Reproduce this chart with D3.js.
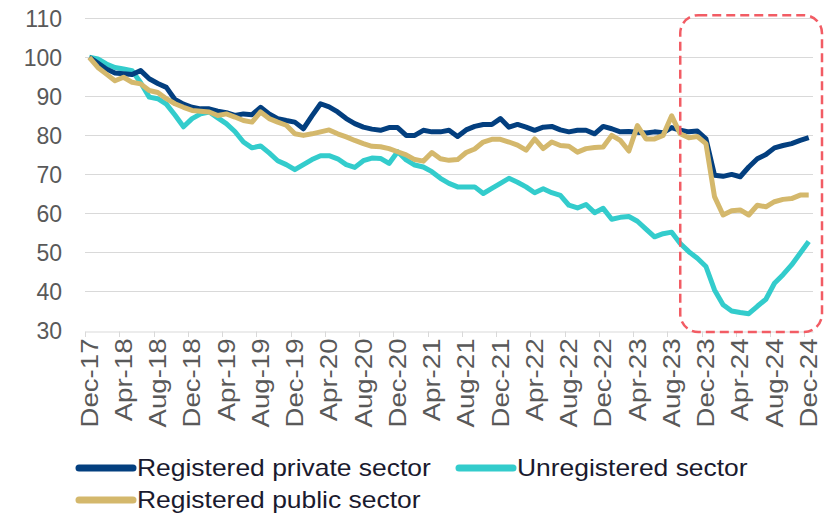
<!DOCTYPE html>
<html>
<head>
<meta charset="utf-8">
<script src="https://cdn.jsdelivr.net/npm/d3@7"></script>
<style>
  body { margin: 0; background: #fff; }
  svg { display: block; font-family: "Liberation Sans", Arial, sans-serif; }
</style>
</head>
<body>
<div id="chart"></div>
<script>
// months Dec-17 .. Dec-24 (85 categories)
var months = d3.utcMonths(new Date(Date.UTC(2017, 11, 1)), new Date(Date.UTC(2025, 0, 1)));
var fmt = d3.utcFormat("%b-%y");
var yTicks = [30, 40, 50, 60, 70, 80, 90, 100, 110];

var privateSector = [
  100, 98.5, 97, 96, 95.8, 95.6, 96.6, 94.5, 93.3, 92.3, 89.2, 88, 87.2, 86.8, 86.8, 86.2, 85.8,
  85.1, 85.5, 85.3, 87.2, 85.5, 84.3, 83.8, 83.4, 81.7, 85, 88.1, 87.3, 86, 84.3, 83, 82.1, 81.6,
  81.3, 82, 82, 80, 80, 81.3, 80.9, 80.9, 81.3, 79.7, 81.4, 82.3, 82.8, 82.8, 84.3, 82.1, 82.8,
  82.1, 81.3, 82.1, 82.3, 81.4, 80.9, 81.3, 81.3, 80.4, 82.3, 81.7, 80.9, 81, 80.8, 80.6, 80.9, 80.7,
  82, 81.3, 80.9, 81.1, 79.1, 69.8, 69.5, 70, 69.4, 71.9, 74, 75.1, 76.8, 77.4, 77.9, 78.7, 79.4
];
var unregistered = [
  100, 99.6, 98.3, 97.4, 97, 96.6, 93.5, 89.8, 89.4, 88, 85.2, 82.2, 84.3, 85.5, 86, 84.5, 83,
  81, 78.3, 76.8, 77.3, 75.5, 73.5, 72.5, 71.2, 72.5, 73.8, 74.8, 74.8, 74, 72.5, 71.8, 73.5, 74.2,
  74.1, 72.8, 75.8, 73.7, 72.4, 71.9, 70.7, 69, 67.7, 66.8, 66.8, 66.8, 65.1, 66.4, 67.7, 69, 68,
  66.8, 65.3, 66.3, 65.3, 64.6, 62.1, 61.4, 62.3, 60.2, 61.3, 58.5, 59, 59.2, 58, 56, 54, 54.8,
  55.2, 52.3, 50.2, 48.5, 46.4, 40.4, 36.6, 35, 34.6, 34.3, 36.2, 38, 42.1, 44.3, 46.8, 49.8, 52.8
];
var publicSector = [
  100, 97.4, 95.7, 94, 94.9, 93.6, 93.2, 91.5, 91, 89.4, 88.1, 87.2, 86.4, 86.2, 86, 85.1, 85.5,
  84.7, 83.8, 83.4, 86, 84.3, 83.4, 82.6, 80.4, 80, 80.4, 80.9, 81.4, 80.4, 79.6, 78.7, 77.9, 77.2,
  77.1, 76.6, 75.8, 75, 73.8, 73.4, 75.6, 74, 73.6, 73.8, 75.6, 76.5, 78.3, 79, 79, 78.3, 77.5,
  76.2, 79.1, 76.6, 78.3, 77.4, 77.2, 75.7, 76.6, 76.9, 77, 80, 78.7, 76, 82.5, 79.1, 79.1, 80,
  85, 80.4, 79.4, 79.7, 77.9, 64.3, 59.6, 60.7, 60.9, 59.6, 62.1, 61.7, 63, 63.6, 63.8, 64.7, 64.7
];

var seriesNames = ["Registered private sector", "Unregistered sector", "Registered public sector"];
var seriesColors = ["#033f7f", "#33cccc", "#d4b86c"];
var seriesData = [privateSector, unregistered, publicSector];

var W = 830, H = 514;
var svg = d3.select("#chart").append("svg").attr("width", W).attr("height", H);

var x = d3.scaleBand().domain(months.map(fmt)).range([85, 813]).paddingInner(0).paddingOuter(0);
var y = d3.scaleLinear().domain([30, 110]).range([330.5, 18.3]);
var bw = x.bandwidth();

// gridlines
svg.append("g").selectAll("line").data(yTicks.slice(1)).enter().append("line")
  .attr("x1", 85).attr("x2", 813)
  .attr("y1", function(d) { return Math.round(y(d)) + 0.5; })
  .attr("y2", function(d) { return Math.round(y(d)) + 0.5; })
  .attr("stroke", "#d9d9d9").attr("stroke-width", 1);

// y axis labels
var yAxis = d3.axisLeft(y).tickValues(yTicks).tickSize(0).tickPadding(23);
var gy = svg.append("g").attr("transform", "translate(85,0)").call(yAxis);
gy.select(".domain").remove();
gy.selectAll("text").attr("fill", "#595959").style("font-size", "23px").attr("dy", "0.34em");

// x axis
var labelled = months.map(fmt).filter(function(d, i) { return i % 4 === 0; });
var xAxis = d3.axisBottom(x).tickValues(labelled).tickSize(0).tickPadding(0);
var gx = svg.append("g").attr("transform", "translate(0," + (Math.round(y(30)) + 0.5) + ")").call(xAxis);
gx.select(".domain").attr("stroke", "#d9d9d9");
gx.selectAll("text")
  .attr("fill", "#595959").style("font-size", "23px")
  .attr("text-anchor", "end")
  .attr("transform", "translate(0,7) rotate(-90) scale(1.2,1)")
  .attr("x", 0).attr("y", 0).attr("dy", "0.36em");
// tick marks on category boundaries
var bounds = d3.range(0, months.length + 1, 4);
svg.append("g").selectAll("line").data(bounds).enter().append("line")
  .attr("x1", function(i) { return Math.round(85 + i * bw) + 0.5; })
  .attr("x2", function(i) { return Math.round(85 + i * bw) + 0.5; })
  .attr("y1", Math.round(y(30)) + 0.5).attr("y2", Math.round(y(30)) + 6)
  .attr("stroke", "#d9d9d9");

// lines
var line = d3.line()
  .x(function(d, i) { return x(fmt(months[i])) + bw / 2; })
  .y(function(d) { return y(d); });

[1, 0, 2].forEach(function(k) {
  svg.append("path").datum(seriesData[k])
    .attr("d", line)
    .attr("fill", "none")
    .attr("stroke", seriesColors[k])
    .attr("stroke-width", 5)
    .attr("stroke-linejoin", "round");
});

// highlight box around the last year
var hx0 = x(fmt(months[69])) + bw / 2;
svg.append("rect")
  .attr("x", hx0).attr("y", y(110.8))
  .attr("width", 822 - hx0).attr("height", y(29.6) - y(110.8))
  .attr("rx", 18).attr("ry", 18)
  .attr("fill", "none").attr("stroke", "#f25c64")
  .attr("stroke-width", 2.5).attr("stroke-dasharray", "9,5");

// legend
var legendPos = [[76, 468], [456, 468], [76, 500]];
var lg = svg.append("g").selectAll("g").data(seriesNames).enter().append("g")
  .attr("transform", function(d, i) { return "translate(" + legendPos[i][0] + "," + legendPos[i][1] + ")"; });
lg.append("line").attr("x1", 3).attr("x2", 57).attr("y1", 0).attr("y2", 0)
  .attr("stroke", function(d, i) { return seriesColors[i]; })
  .attr("stroke-width", 7).attr("stroke-linecap", "round");
lg.append("text").attr("x", 0).attr("y", 0).attr("dy", "0.35em")
  .attr("transform", "translate(61,0) scale(1.15,1)")
  .attr("fill", "#1a1a2e").style("font-size", "23px")
  .text(function(d) { return d; });
</script>
</body>
</html>
